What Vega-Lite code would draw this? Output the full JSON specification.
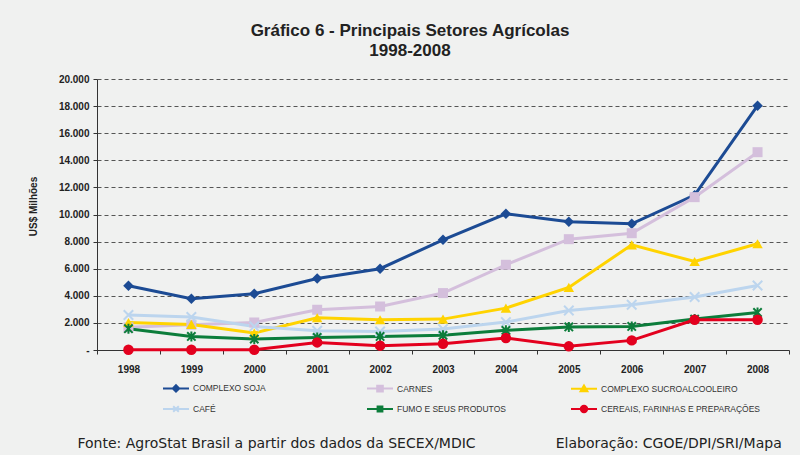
{
  "$schema": "https://vega.github.io/schema/vega-lite/v6.json",
  "autosize": {"type": "none"},
  "width": 692,
  "height": 271,
  "padding": {"left": 97, "top": 79, "right": 11, "bottom": 105},
  "background": "#f0f1f0",
  "config": {
    "view": {"stroke": null},
    "font": "Liberation Sans",
    "axis": {"labelFont": "Liberation Sans", "titleFont": "Liberation Sans"}
  },
  "title": {
    "text": ["Gráfico 6 - Principais Setores Agrícolas", "1998-2008"],
    "fontSize": 17,
    "fontWeight": "bold",
    "color": "#222222",
    "font": "Liberation Sans",
    "anchor": "middle",
    "frame": "group",
    "lineHeight": 20,
    "dx": -33,
    "offset": 14
  },
  "data": {
    "values": [
      {"year": "1998", "series": "COMPLEXO SOJA", "value": 4740},
      {"year": "1999", "series": "COMPLEXO SOJA", "value": 3780},
      {"year": "2000", "series": "COMPLEXO SOJA", "value": 4150},
      {"year": "2001", "series": "COMPLEXO SOJA", "value": 5280},
      {"year": "2002", "series": "COMPLEXO SOJA", "value": 6000},
      {"year": "2003", "series": "COMPLEXO SOJA", "value": 8130},
      {"year": "2004", "series": "COMPLEXO SOJA", "value": 10050},
      {"year": "2005", "series": "COMPLEXO SOJA", "value": 9460},
      {"year": "2006", "series": "COMPLEXO SOJA", "value": 9310},
      {"year": "2007", "series": "COMPLEXO SOJA", "value": 11430},
      {"year": "2008", "series": "COMPLEXO SOJA", "value": 18030},
      {"year": "1998", "series": "CARNES", "value": 1670},
      {"year": "1999", "series": "CARNES", "value": 1870},
      {"year": "2000", "series": "CARNES", "value": 2030},
      {"year": "2001", "series": "CARNES", "value": 2970},
      {"year": "2002", "series": "CARNES", "value": 3210},
      {"year": "2003", "series": "CARNES", "value": 4200},
      {"year": "2004", "series": "CARNES", "value": 6290},
      {"year": "2005", "series": "CARNES", "value": 8180},
      {"year": "2006", "series": "CARNES", "value": 8620},
      {"year": "2007", "series": "CARNES", "value": 11280},
      {"year": "2008", "series": "CARNES", "value": 14600},
      {"year": "1998", "series": "COMPLEXO SUCROALCOOLEIRO", "value": 2030},
      {"year": "1999", "series": "COMPLEXO SUCROALCOOLEIRO", "value": 1890},
      {"year": "2000", "series": "COMPLEXO SUCROALCOOLEIRO", "value": 1250},
      {"year": "2001", "series": "COMPLEXO SUCROALCOOLEIRO", "value": 2380},
      {"year": "2002", "series": "COMPLEXO SUCROALCOOLEIRO", "value": 2230},
      {"year": "2003", "series": "COMPLEXO SUCROALCOOLEIRO", "value": 2280},
      {"year": "2004", "series": "COMPLEXO SUCROALCOOLEIRO", "value": 3090},
      {"year": "2005", "series": "COMPLEXO SUCROALCOOLEIRO", "value": 4620},
      {"year": "2006", "series": "COMPLEXO SUCROALCOOLEIRO", "value": 7760},
      {"year": "2007", "series": "COMPLEXO SUCROALCOOLEIRO", "value": 6530},
      {"year": "2008", "series": "COMPLEXO SUCROALCOOLEIRO", "value": 7840},
      {"year": "1998", "series": "CAFÉ", "value": 2580},
      {"year": "1999", "series": "CAFÉ", "value": 2430},
      {"year": "2000", "series": "CAFÉ", "value": 1740},
      {"year": "2001", "series": "CAFÉ", "value": 1420},
      {"year": "2002", "series": "CAFÉ", "value": 1370},
      {"year": "2003", "series": "CAFÉ", "value": 1550},
      {"year": "2004", "series": "CAFÉ", "value": 2060},
      {"year": "2005", "series": "CAFÉ", "value": 2920},
      {"year": "2006", "series": "CAFÉ", "value": 3340},
      {"year": "2007", "series": "CAFÉ", "value": 3910},
      {"year": "2008", "series": "CAFÉ", "value": 4760},
      {"year": "1998", "series": "FUMO E SEUS PRODUTOS", "value": 1570},
      {"year": "1999", "series": "FUMO E SEUS PRODUTOS", "value": 1000},
      {"year": "2000", "series": "FUMO E SEUS PRODUTOS", "value": 810},
      {"year": "2001", "series": "FUMO E SEUS PRODUTOS", "value": 930},
      {"year": "2002", "series": "FUMO E SEUS PRODUTOS", "value": 1000},
      {"year": "2003", "series": "FUMO E SEUS PRODUTOS", "value": 1080},
      {"year": "2004", "series": "FUMO E SEUS PRODUTOS", "value": 1450},
      {"year": "2005", "series": "FUMO E SEUS PRODUTOS", "value": 1700},
      {"year": "2006", "series": "FUMO E SEUS PRODUTOS", "value": 1740},
      {"year": "2007", "series": "FUMO E SEUS PRODUTOS", "value": 2280},
      {"year": "2008", "series": "FUMO E SEUS PRODUTOS", "value": 2770},
      {"year": "1998", "series": "CEREAIS, FARINHAS E PREPARAÇÕES", "value": 20},
      {"year": "1999", "series": "CEREAIS, FARINHAS E PREPARAÇÕES", "value": 20},
      {"year": "2000", "series": "CEREAIS, FARINHAS E PREPARAÇÕES", "value": 20},
      {"year": "2001", "series": "CEREAIS, FARINHAS E PREPARAÇÕES", "value": 560},
      {"year": "2002", "series": "CEREAIS, FARINHAS E PREPARAÇÕES", "value": 320},
      {"year": "2003", "series": "CEREAIS, FARINHAS E PREPARAÇÕES", "value": 460},
      {"year": "2004", "series": "CEREAIS, FARINHAS E PREPARAÇÕES", "value": 880},
      {"year": "2005", "series": "CEREAIS, FARINHAS E PREPARAÇÕES", "value": 270},
      {"year": "2006", "series": "CEREAIS, FARINHAS E PREPARAÇÕES", "value": 710},
      {"year": "2007", "series": "CEREAIS, FARINHAS E PREPARAÇÕES", "value": 2230},
      {"year": "2008", "series": "CEREAIS, FARINHAS E PREPARAÇÕES", "value": 2230}
    ]
  },
  "encoding": {
    "x": {
      "field": "year",
      "type": "ordinal",
      "scale": {"type": "band", "paddingInner": 0, "paddingOuter": 0},
      "axis": {
        "title": "Fonte: AgroStat Brasil a partir dos dados da SECEX/MDIC\u00a0\u00a0\u00a0\u00a0\u00a0\u00a0\u00a0\u00a0\u00a0\u00a0\u00a0\u00a0\u00a0\u00a0\u00a0\u00a0\u00a0\u00a0Elaboração: CGOE/DPI/SRI/Mapa",
        "titleFont": "DejaVu Sans",
        "titleFontSize": 14,
        "titleFontWeight": "normal",
        "titleColor": "#222222",
        "titleAlign": "left",
        "titleAnchor": "start",
        "titleBaseline": "alphabetic",
        "titleX": -20,
        "titleY": 97,
        "labelAngle": 0,
        "labelFontSize": 10,
        "labelFontWeight": "bold",
        "labelColor": "#222222",
        "labelPadding": 10,
        "tickBand": "extent",
        "tickSize": 4,
        "tickColor": "#333333",
        "domainColor": "#333333",
        "grid": false
      }
    },
    "y": {
      "field": "value",
      "type": "quantitative",
      "scale": {"domain": [0, 20000], "nice": false},
      "axis": {
        "title": "US$ Milhões",
        "titleFontSize": 10,
        "titleFontWeight": "bold",
        "titleColor": "#222222",
        "titleX": -64,
        "titleY": 127,
        "titleAlign": "center",
        "titleBaseline": "middle",
        "titleAngle": -90,
        "values": [0, 2000, 4000, 6000, 8000, 10000, 12000, 14000, 16000, 18000, 20000],
        "labelExpr": "datum.value === 0 ? '-' : replace(format(datum.value, ','), ',', '.')",
        "labelFontSize": 10,
        "labelFontWeight": "bold",
        "labelColor": "#222222",
        "labelPadding": 4,
        "tickSize": 4,
        "tickColor": "#333333",
        "domainColor": "#333333",
        "grid": true,
        "gridColor": "#555555",
        "gridDash": [4, 3],
        "gridWidth": 1
      }
    }
  },
  "layer": [
    {
      "mark": {"type": "line", "strokeWidth": 3},
      "encoding": {
        "color": {
          "field": "series",
          "type": "nominal",
          "scale": {
            "domain": ["COMPLEXO SOJA", "CARNES", "COMPLEXO SUCROALCOOLEIRO", "CAFÉ", "FUMO E SEUS PRODUTOS", "CEREAIS, FARINHAS E PREPARAÇÕES"],
            "range": ["#1c4b94", "#d4bfdc", "#ffd300", "#bcd5ee", "#0c7d3b", "#e3001e"]
          },
          "legend": {
            "title": null,
            "orient": "none",
            "legendX": 74,
            "legendY": 304,
            "direction": "horizontal",
            "columns": 3,
            "gridAlign": "all",
            "columnPadding": 10,
            "rowPadding": 5,
            "symbolSize": 64,
            "symbolStrokeWidth": 2,
            "labelFontSize": 8.5,
            "labelColor": "#333333",
            "labelFont": "Liberation Sans",
            "labelOffset": 12,
            "labelLimit": 300,
            "encode": {
              "symbols": {
                "update": {
                  "shape": {"signal": "datum.value === 'COMPLEXO SOJA' ? 'M-3.25,0H3.25M0,-0.8L0.8,0L0,0.8L-0.8,0Z' : datum.value === 'CARNES' ? 'M-3.25,0H3.25M-0.7,-0.7H0.7V0.7H-0.7Z' : datum.value === 'COMPLEXO SUCROALCOOLEIRO' ? 'M-3.25,0H3.25M0,-0.85L0.85,0.6L-0.85,0.6Z' : datum.value === 'CAFÉ' ? 'M-3.25,0H3.25M-0.7,-0.7L0.7,0.7M-0.7,0.7L0.7,-0.7' : datum.value === 'FUMO E SEUS PRODUTOS' ? 'M-3.25,0H3.25M-0.6,-0.6H0.6V0.6H-0.6Z' : 'M-3.25,0H3.25M-0.8,0A0.8,0.8 0 1,0 0.8,0A0.8,0.8 0 1,0 -0.8,0Z'"},
                  "fill": {"scale": "color", "field": "value"},
                  "stroke": {"scale": "color", "field": "value"},
                  "strokeWidth": {"value": 2},
                  "opacity": {"value": 1}
                }
              }
            }
          }
        }
      }
    },
    {
      "transform": [{"filter": "datum.series === 'COMPLEXO SOJA'"}],
      "mark": {"type": "point", "shape": "diamond", "filled": true, "opacity": 1, "size": 110, "color": "#1c4b94"},
      "encoding": {}
    },
    {
      "transform": [{"filter": "datum.series === 'CARNES'"}],
      "mark": {"type": "point", "shape": "square", "filled": true, "opacity": 1, "size": 100, "color": "#d4bfdc"},
      "encoding": {}
    },
    {
      "transform": [{"filter": "datum.series === 'COMPLEXO SUCROALCOOLEIRO'"}],
      "mark": {"type": "point", "shape": "triangle-up", "filled": true, "opacity": 1, "size": 110, "color": "#ffd300"},
      "encoding": {}
    },
    {
      "transform": [{"filter": "datum.series === 'CAFÉ'"}],
      "mark": {"type": "point", "shape": "M-1,-1L1,1M-1,1L1,-1", "filled": false, "opacity": 1, "size": 90, "strokeWidth": 2, "color": "#bcd5ee"},
      "encoding": {}
    },
    {
      "transform": [{"filter": "datum.series === 'FUMO E SEUS PRODUTOS'"}],
      "mark": {"type": "point", "shape": "M-1,-1L1,1M-1,1L1,-1M0,-1.2L0,1.2", "filled": false, "opacity": 1, "size": 70, "strokeWidth": 2, "color": "#0c7d3b"},
      "encoding": {}
    },
    {
      "transform": [{"filter": "datum.series === 'CEREAIS, FARINHAS E PREPARAÇÕES'"}],
      "mark": {"type": "point", "shape": "circle", "filled": true, "opacity": 1, "size": 110, "color": "#e3001e"},
      "encoding": {}
    }
  ]
}
